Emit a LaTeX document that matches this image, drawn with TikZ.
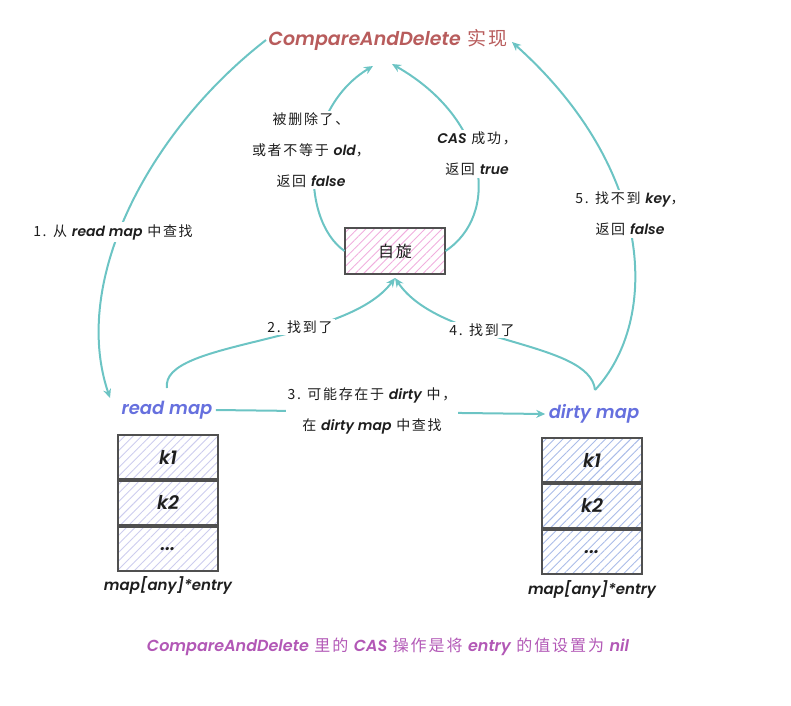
\documentclass[tikz,border=0pt]{standalone}
\usepackage{fontspec}
\setmainfont{Noto Sans CJK SC}[LetterSpace=12]
\newfontfamily\latf{Poppins}[UprightFont=* SemiBold Italic]
\usetikzlibrary{arrows.meta,patterns.meta}
\newcommand\en[1]{{\latf #1}}
\definecolor{teal1}{RGB}{108,196,196}
\definecolor{titlec}{RGB}{184,92,92}
\definecolor{mapc}{RGB}{102,112,222}
\definecolor{capc}{RGB}{178,88,182}
\definecolor{txt}{RGB}{30,30,30}
\definecolor{boxb}{RGB}{80,80,80}
\definecolor{hatchL}{RGB}{205,205,238}
\definecolor{hatchR}{RGB}{170,188,232}
\definecolor{hatchP}{RGB}{240,175,222}
\begin{document}
\begin{tikzpicture}[x=1pt,y=-1pt,
  conn/.style={draw=teal1,line width=2pt,-{Stealth[length=9pt,width=8pt]}},
  lbl/.style={fill=white,text=txt,font=\fontsize{14}{31}\selectfont,align=center,inner sep=2pt},
  hatch/.style={pattern={Lines[angle=45,distance=6pt,line width=0.9pt]},pattern color=#1},
  cell/.style={draw=boxb,line width=1.9pt,minimum width=100pt,minimum height=44pt,text=txt,font=\fontsize{19}{20}\selectfont\latf},
  mapl/.style={text=mapc,font=\fontsize{18}{20}\selectfont\latf},
  sub/.style={text=txt,font=\fontsize{15}{16}\selectfont\latf}]
\useasboundingbox (0,0) rectangle (791,705);
% title
\node[text=titlec,font=\fontsize{19}{22}\selectfont] (T) at (388,40) {\en{CompareAndDelete} 实现};
% spin box
\node[draw=boxb,line width=1.9pt,hatch=hatchP,minimum width=100pt,minimum height=46pt,text=txt,font=\fontsize{16}{17}\selectfont] (S) at (395,251) {自旋};
% map labels
\node[mapl] (R) at (167,410) {read map};
\node[mapl] (D) at (594,414) {dirty map};
% tables
\node[cell,hatch=hatchL] (L1) at (168,457) {k1};
\node[cell,hatch=hatchL,anchor=north] (L2) at (L1.south) {k2};
\node[cell,hatch=hatchL,anchor=north] (L3) at (L2.south) {...};
\node[sub] (LS) at (168,585) {map[any]*entry};
\node[cell,hatch=hatchR] (R1) at (592,460) {k1};
\node[cell,hatch=hatchR,anchor=north] (R2) at (R1.south) {k2};
\node[cell,hatch=hatchR,anchor=north] (R3) at (R2.south) {...};
\node[sub] (RS) at (592,589) {map[any]*entry};
% connector endpoints
\coordinate (t1) at (266,40);
\coordinate (t2) at (512,42);
\coordinate (t3) at (373,66);
\coordinate (t4) at (392,64);
\coordinate (r1) at (110,398);
\coordinate (r2) at (167,388);
\coordinate (d1) at (595,390);
\coordinate (s1) at (395,278);
% connectors
\draw[conn] (t1) .. controls (150,130) and (70,280) .. (r1);
\draw[conn] (d1) .. controls (660,320) and (655,170) .. (t2);
\draw[conn] (S.west) .. controls (300,220) and (300,110) .. (t3);
\draw[conn] (S.east) .. controls (500,215) and (490,120) .. (t4);
\draw[conn] (r2) .. controls (160,340) and (345,345) .. (s1);
\draw[conn] (d1) .. controls (590,340) and (440,345) .. (s1);
\draw[conn] (R.east) -- (D.west);
% labels
\node[lbl] (l1) at (113,232) {1. 从 \en{read map} 中查找};
\node[lbl] (l5) at (630,214) {5. 找不到 \en{key}，\\返回 \en{false}};
\node[lbl] (lm) at (311,150) {被删除了、\\或者不等于 \en{old}，\\返回 \en{false}};
\node[lbl] (lr) at (477,154) {\en{CAS} 成功，\\返回 \en{true}};
\node[lbl] (l2) at (300,327) {2. 找到了};
\node[lbl] (l4) at (482,330) {4. 找到了};
\node[lbl] (l3) at (372,411) {3. 可能存在于 \en{dirty} 中，\\在 \en{dirty map} 中查找};
% caption
\node[text=capc,font=\fontsize{16}{17}\selectfont] (C) at (388,647) {\en{CompareAndDelete} 里的 \en{CAS} 操作是将 \en{entry} 的值设置为 \en{nil}};
\end{tikzpicture}
\end{document}
